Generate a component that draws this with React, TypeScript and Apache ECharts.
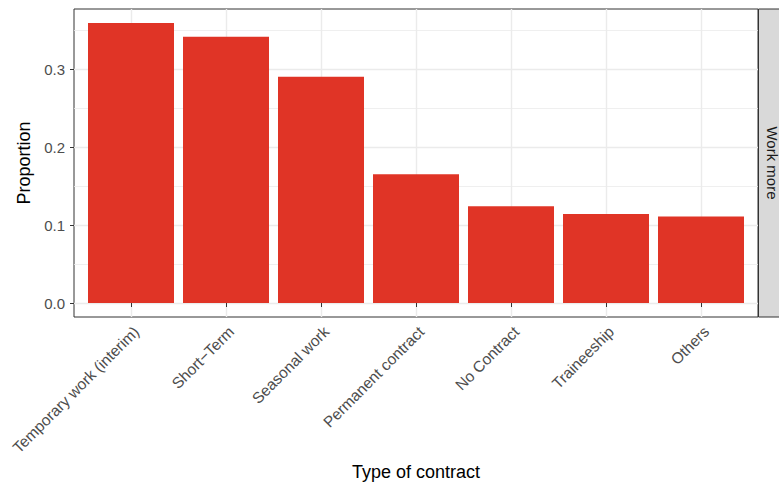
import React, { useEffect, useRef } from "react";
import * as echarts from "echarts";

const categories = [
  "Temporary work (interim)",
  "Short\u2212Term",
  "Seasonal work",
  "Permanent contract",
  "No Contract",
  "Traineeship",
  "Others",
];
const proportions = [0.359, 0.3415, 0.29, 0.165, 0.124, 0.114, 0.111];
const yMajorTicks = [0, 0.1, 0.2, 0.3];
const yMinorTicks = [0.05, 0.15, 0.25, 0.35];
const facetLabel = "Work more";
const xTitle = "Type of contract";
const yTitle = "Proportion";

const FONT = "'Liberation Sans', Arial, Helvetica, sans-serif";

export default function App() {
  const ref = useRef<HTMLDivElement>(null);

  useEffect(() => {
    if (!ref.current) return;
    const chart = echarts.init(ref.current, null, { renderer: "svg" });
    const positions = categories.map((_, i) => i + 1);
    // label anchors nudged right so rotated text ends like ggplot's hjust=1/vjust=1
    const labelPositions = positions.map((p) => p + 0.056);
    const yMax = Math.max(...proportions);
    const pad = yMax * 0.05;

    const option: any = {
      animation: false,
      backgroundColor: "#ffffff",
      textStyle: { fontFamily: FONT },
      grid: {
        left: 74,
        right: 21,
        top: 9,
        bottom: 168,
        containLabel: false,
        outerBoundsMode: "none",
        show: true,
        borderColor: "#333333",
        borderWidth: 1,
        backgroundColor: "#ffffff",
      },
      xAxis: {
        type: "value",
        min: 0.4,
        max: categories.length + 0.6,
        axisLine: { show: false },
        axisTick: {
          show: true,
          customValues: positions,
          length: 4,
          lineStyle: { color: "#333333", width: 1 },
        },
        axisLabel: {
          customValues: labelPositions,
          formatter: (v: number) => categories[Math.round(v) - 1] ?? "",
          rotate: 45,
          fontSize: 15.5,
          color: "#4D4D4D",
          fontFamily: FONT,
          margin: 12,
        },
        splitLine: { show: true, lineStyle: { color: "#EBEBEB", width: 1.4 } },
        name: xTitle,
        nameLocation: "middle",
        nameGap: 145,
        nameTextStyle: { fontSize: 18, color: "#000000", fontFamily: FONT },
      },
      yAxis: [
        {
          type: "value",
          min: -pad,
          max: yMax + pad,
          axisLine: { show: false },
          axisTick: {
            show: true,
            customValues: yMajorTicks,
            length: 4,
            lineStyle: { color: "#333333", width: 1 },
          },
          axisLabel: {
            customValues: yMajorTicks,
            formatter: (v: number) => v.toFixed(1),
            fontSize: 15,
            color: "#4D4D4D",
            fontFamily: FONT,
            margin: 9,
          },
          splitLine: { show: true, lineStyle: { color: "#EBEBEB", width: 1.4 } },
          name: yTitle,
          nameLocation: "middle",
          nameGap: 37,
          nameRotate: 90,
          nameTextStyle: { fontSize: 18, color: "#000000", fontFamily: FONT },
        },
        {
          type: "value",
          position: "left",
          min: -pad,
          max: yMax + pad,
          axisLine: { show: false },
          axisTick: { show: false, customValues: yMinorTicks },
          axisLabel: { show: false, customValues: yMinorTicks },
          splitLine: { show: true, lineStyle: { color: "#EBEBEB", width: 0.8 } },
        },
      ],
      series: [
        {
          type: "bar",
          yAxisIndex: 0,
          data: proportions.map((v, i) => [i + 1, v]),
          barWidth: 86,
          itemStyle: { color: "#E03426" },
          z: 3,
        },
      ],
      graphic: [
        {
          type: "rect",
          shape: { x: 758.5, y: 9, width: 26, height: 308 },
          style: { fill: "#D9D9D9", stroke: "#333333", lineWidth: 1 },
          z: 10,
        },
        {
          type: "text",
          x: 772,
          y: 163,
          rotation: -Math.PI / 2,
          style: {
            text: facetLabel,
            align: "center",
            verticalAlign: "middle",
            fontSize: 15,
            fill: "#1A1A1A",
            fontFamily: FONT,
          },
          z: 11,
        },
      ],
    };

    chart.setOption(option);
    return () => chart.dispose();
  }, []);

  return (
    <div
      ref={ref}
      style={{ position: "fixed", left: 0, top: 0, width: 779, height: 485 }}
    />
  );
}
